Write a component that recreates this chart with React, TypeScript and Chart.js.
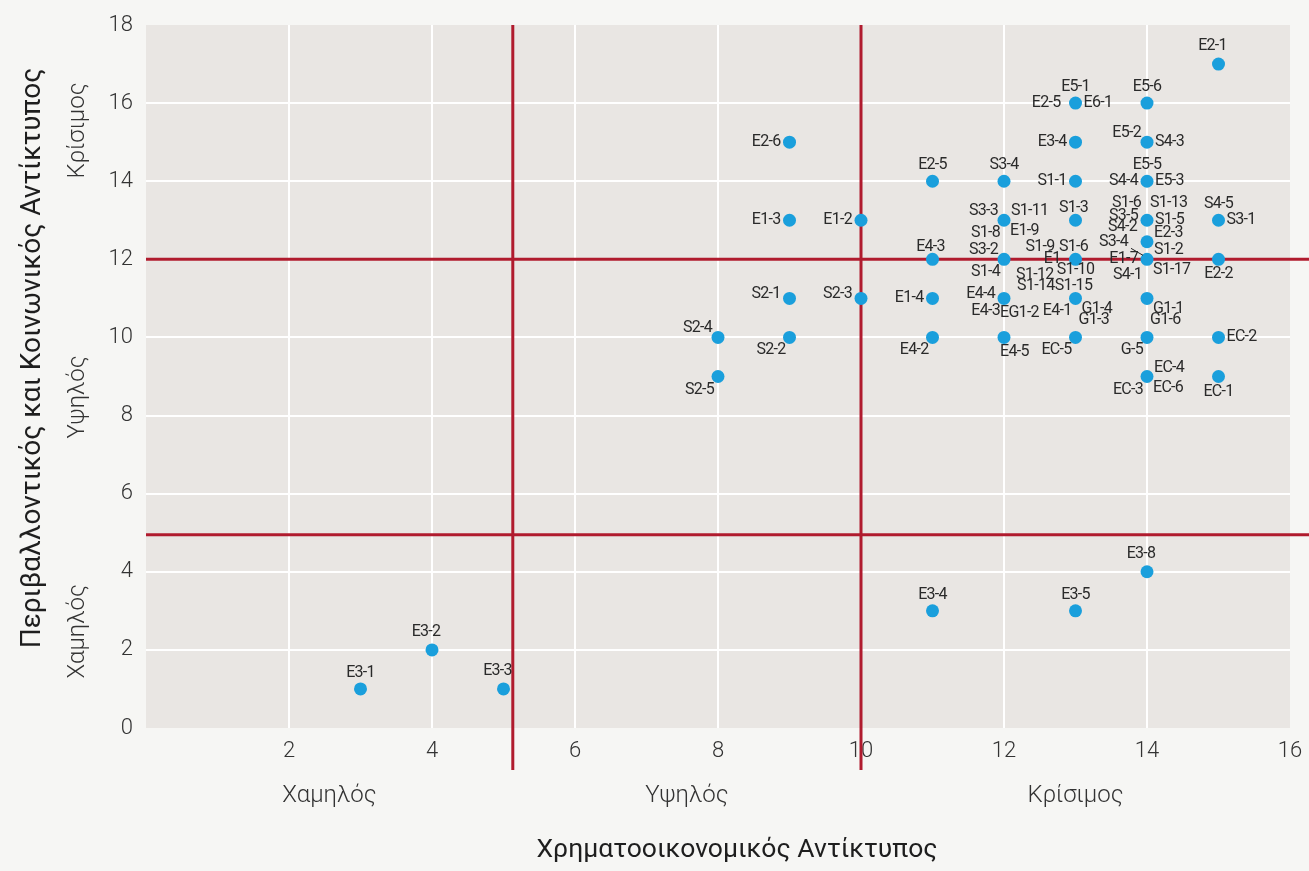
import React, { useEffect, useRef } from "react";
import { Chart, registerables } from "chart.js";

Chart.register(...registerables);

// ---- data ----
const xValues = [3, 4, 5, 11, 13, 14, 15, 8, 8, 9, 9, 9, 9, 10, 10, 11, 11, 11, 11, 12, 12, 12, 12, 12, 13, 13, 13, 13, 13, 13, 13, 14, 14, 14, 14, 14, 14, 14, 14, 14, 15, 15, 15, 15];
const yValues = [1, 2, 1, 3, 3, 4, 17, 10, 9, 15, 13, 11, 10, 13, 11, 14, 12, 11, 10, 14, 13, 12, 11, 10, 16, 15, 14, 13, 12, 11, 10, 16, 15, 14, 13, 12.45, 12, 11, 10, 9, 13, 12, 10, 9];
const pointLabels: string[][] = [
  ["E3-1"], ["E3-2"], ["E3-3"], ["E3-4"], ["E3-5"], ["E3-8"], ["E2-1"],
  ["S2-4"], ["S2-5"], ["E2-6"], ["E1-3"], ["S2-1"], ["S2-2"], ["E1-2"], ["S2-3"],
  ["E2-5"], ["E4-3"], ["E1-4"], ["E4-2"],
  ["S3-4"], ["S3-3", "S1-11", "S1-8", "E1-9"], ["S3-2", "S1-4"], ["E4-4", "E4-3", "EG1-2"], ["E4-5"],
  ["E5-1", "E2-5", "E6-1"], ["E3-4"], ["S1-1"], ["S1-3"],
  ["S1-9", "S1-6", "E1", "S1-10", "S1-12"], ["S1-14", "S1-15", "E4-1", "G1-4"], ["G1-3", "EC-5"],
  ["E5-6"], ["E5-2", "S4-3"], ["E5-5", "S4-4", "E5-3"], ["S1-6", "S1-13", "S3-5", "S1-5", "S4-2"],
  ["E2-3"], ["S3-4", "S1-2", "E1-7", "S4-1", "S1-17"], ["G1-1"], ["G1-6", "G-5"], ["EC-4", "EC-3", "EC-6"],
  ["S4-5", "S3-1"], ["E2-2"], ["EC-2"], ["EC-1"],
];
// label placement codes (one per label)
const labelAnchors: string[][] = [
  ["t"], ["tw"], ["tw"], ["t"], ["t"], ["tw"], ["tw"],
  ["tl"], ["bl"], ["l"], ["l"], ["lu"], ["bl"], ["l"], ["lu"],
  ["t"], ["tn"], ["l"], ["bl"],
  ["t"], ["tl", "tr", "bl", "br"], ["tl", "bl"], ["lu", "bl", "bR"], ["bR"],
  ["t", "l2", "r"], ["l"], ["l"], ["tn"],
  ["ftl", "tn", "l2", "bn", "fbl"], ["ftl", "tn", "bl", "br"], ["tr2", "bl"],
  ["t"], ["tl", "r"], ["t", "l", "r"], ["tl2", "tr2", "lu", "r", "ld"],
  ["tr"], ["lead", "tr", "l", "bl2", "br"], ["br"], ["tr2", "bl"], ["tr", "bl", "br"],
  ["t", "r"], ["b"], ["r"], ["b"],
];

const xThresholds = [5.13, 10];
const yThresholds = [4.95, 12];
const xBounds = [0, 5.13, 10, 16];
const yBounds = [0, 4.95, 12, 18.6];
const levelLabels = ["Χαμηλός", "Υψηλός", "Κρίσιμος"];
const xTitle = "Χρηματοοικονομικός Αντίκτυπος";
const yTitle = "Περιβαλλοντικός και Κοινωνικός Αντίκτυπος";

// ---- styling ----
const ANCHORS: Record<string, [number, number, CanvasTextAlign]> = {
  t: [0, -16, "center"],
  tn: [-2, -12, "center"],
  tw: [-6, -18, "center"],
  b: [0, 15, "center"],
  bn: [0, 11, "center"],
  l: [-9, 0, "right"],
  lu: [-9, -4, "right"],
  ld: [-10, 7, "right"],
  l2: [-15, 0, "right"],
  r: [8, 0, "left"],
  tl: [-6, -9, "right"],
  tr: [7, -9, "left"],
  bl: [-4, 13, "right"],
  bl2: [-5, 16, "right"],
  br: [6, 11, "left"],
  bR: [-4, 15, "left"],
  tl2: [-6, -17, "right"],
  tr2: [3, -17, "left"],
  ftl: [-21, -12, "right"],
  fbl: [-22, 16, "right"],
  lead: [-19, -17, "right"],
};
const FONT = '"Roboto", "Noto Sans", sans-serif';
const RED = "#b01b2e";
const BLUE = "#1a9fdc";

const overlayPlugin = {
  id: "overlay",
  beforeDraw(chart: any) {
    const { ctx, chartArea: a } = chart;
    ctx.save();
    ctx.fillStyle = "#f6f6f4";
    ctx.fillRect(0, 0, chart.width, chart.height);
    ctx.fillStyle = "#e9e6e3";
    ctx.fillRect(a.left, a.top, a.right - a.left, a.bottom - a.top);
    ctx.restore();
  },
  beforeDatasetsDraw(chart: any) {
    const { ctx, chartArea: a, scales } = chart;
    ctx.save();
    ctx.strokeStyle = RED;
    ctx.lineWidth = 3;
    xThresholds.forEach((v) => {
      const px = scales.x.getPixelForValue(v);
      ctx.beginPath();
      ctx.moveTo(px, a.top);
      ctx.lineTo(px, a.bottom + 42);
      ctx.stroke();
    });
    yThresholds.forEach((v) => {
      const py = scales.y.getPixelForValue(v);
      ctx.beginPath();
      ctx.moveTo(a.left, py);
      ctx.lineTo(chart.width, py);
      ctx.stroke();
    });
    ctx.restore();
  },
  afterDatasetsDraw(chart: any) {
    const { ctx, scales } = chart;
    ctx.save();
    ctx.font = `16px ${FONT}`;
    ctx.fillStyle = "#2a2a2a";
    ctx.textBaseline = "middle";
    try { (ctx as any).letterSpacing = "-0.7px"; } catch (e) {}
    pointLabels.forEach((labs, i) => {
      const px = scales.x.getPixelForValue(xValues[i]);
      const py = scales.y.getPixelForValue(yValues[i]);
      labs.forEach((t, j) => {
        const code = labelAnchors[i][j];
        const [dx, dy, align] = ANCHORS[code];
        ctx.textAlign = align;
        ctx.fillText(t, px + dx, py + dy);
        if (code === "lead") {
          ctx.beginPath();
          ctx.strokeStyle = "#222";
          ctx.lineWidth = 1;
          ctx.moveTo(px + dx + 3, py + dy + 6);
          ctx.lineTo(px - 4, py - 4);
          ctx.stroke();
        }
      });
    });
    ctx.restore();
  },
  afterDraw(chart: any) {
    const { ctx, scales } = chart;
    ctx.save();
    try { (ctx as any).letterSpacing = "0px"; } catch (e) {}
    ctx.fillStyle = "#333";
    ctx.textAlign = "center";
    ctx.textBaseline = "middle";
    ctx.font = `300 24px ${FONT}`;
    for (let k = 0; k < 3; k++) {
      const cx = scales.x.getPixelForValue((xBounds[k] + xBounds[k + 1]) / 2);
      ctx.fillText(levelLabels[k], cx, 796);
      const cy = scales.y.getPixelForValue((yBounds[k] + yBounds[k + 1]) / 2);
      ctx.save();
      ctx.translate(78, cy);
      ctx.rotate(-Math.PI / 2);
      ctx.fillText(levelLabels[k], 0, 0);
      ctx.restore();
    }
    ctx.fillStyle = "#1e1e1e";
    ctx.font = `26.5px ${FONT}`;
    ctx.fillText(xTitle, 737, 850);
    ctx.font = `28px ${FONT}`;
    ctx.save();
    ctx.translate(33, 358);
    ctx.rotate(-Math.PI / 2);
    ctx.fillText(yTitle, 0, 0);
    ctx.restore();
    ctx.restore();
  },
};

export default function App() {
  const ref = useRef<HTMLCanvasElement>(null);
  useEffect(() => {
    if (!ref.current) return;
    const chart = new Chart(ref.current, {
      type: "scatter",
      data: {
        datasets: [
          {
            data: xValues.map((x, i) => ({ x, y: yValues[i] })),
            backgroundColor: BLUE,
            borderWidth: 0,
            pointRadius: 6.5,
            pointHoverRadius: 6.5,
          },
        ],
      },
      options: {
        animation: false,
        responsive: false,
        devicePixelRatio: 1,
        layout: { padding: { top: 25, right: 19, left: 0, bottom: 0 } },
        plugins: { legend: { display: false }, tooltip: { enabled: false } },
        scales: {
          x: {
            type: "linear",
            min: 0,
            max: 16,
            afterFit: (s: any) => { s.height = 143; s.paddingRight = 0; s.paddingLeft = 0; },
            ticks: {
              stepSize: 2,
              padding: 10,
              color: "#333",
              font: { family: FONT, size: 22, weight: "300" as any },
              callback: (v: any) => (v === 0 ? "" : String(v)),
              maxRotation: 0,
            },
            grid: {
              drawTicks: false,
              lineWidth: 2,
              color: (c: any) => (c.tick && (c.tick.value === 0 || c.tick.value === 16) ? "rgba(0,0,0,0)" : "#ffffff"),
            },
            border: { display: false },
          },
          y: {
            type: "linear",
            min: 0,
            max: 18,
            afterFit: (s: any) => { s.width = 146; s.paddingTop = 0; s.paddingBottom = 0; },
            ticks: {
              stepSize: 2,
              padding: 13,
              color: "#333",
              font: { family: FONT, size: 22, weight: "300" as any },
            },
            grid: {
              drawTicks: false,
              lineWidth: 2,
              color: (c: any) => (c.tick && (c.tick.value === 0 || c.tick.value === 18) ? "rgba(0,0,0,0)" : "#ffffff"),
            },
            border: { display: false },
          },
        },
      },
      plugins: [overlayPlugin],
    });
    return () => chart.destroy();
  }, []);
  return (
    <div style={{ position: "fixed", left: 0, top: 0, width: 1309, height: 871, background: "#f6f6f4" }}>
      <canvas ref={ref} width={1309} height={871} style={{ width: 1309, height: 871, display: "block" }} />
    </div>
  );
}
